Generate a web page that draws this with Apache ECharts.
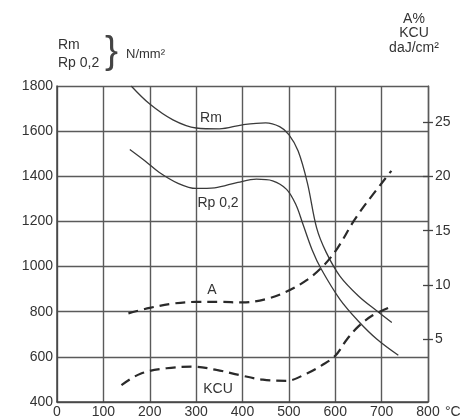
<!DOCTYPE html>
<html><head><meta charset="utf-8">
<script src="https://cdn.jsdelivr.net/npm/echarts@6/dist/echarts.min.js"></script>
<style>html,body{margin:0;padding:0;background:#fff}#c{width:473px;height:419px}</style>
</head><body><div id="c"></div>
<script>
// Axis ticks
const xTicks = [0, 100, 200, 300, 400, 500, 600, 700, 800];
const leftTicks = [400, 600, 800, 1000, 1200, 1400, 1600, 1800];
const rightTicks = [5, 10, 15, 20, 25];

// Rm (N/mm²) vs temperature (°C)
const rmTemp = [160, 200, 250, 300, 350, 400, 450, 480, 500, 520, 540, 560, 580, 610, 650, 690, 722];
const rmVal  = [1800, 1720, 1650, 1614, 1610, 1628, 1637, 1620, 1585, 1512, 1370, 1170, 1065, 958, 870, 803, 752];

// Rp 0,2 (N/mm²)
const rpTemp = [157, 190, 220, 260, 300, 340, 390, 430, 465, 495, 515, 530, 550, 570, 610, 650, 690, 736];
const rpVal  = [1519, 1468, 1418, 1370, 1346, 1349, 1373, 1387, 1380, 1342, 1275, 1190, 1075, 988, 855, 758, 678, 607];

// A (%)
const aTemp = [154, 200, 250, 300, 350, 400, 450, 495, 540, 575, 605, 640, 670, 721];
const aVal  = [7.4, 7.9, 8.3, 8.45, 8.45, 8.4, 8.7, 9.4, 10.5, 11.8, 13.4, 15.9, 17.7, 20.5];

// KCU (daJ/cm²)
const kcuTemp = [139, 180, 236, 294, 344, 394, 444, 495, 540, 570, 600, 625, 650, 680, 720];
const kcuVal  = [0.8, 1.85, 2.35, 2.5, 2.2, 1.72, 1.3, 1.2, 1.9, 2.6, 3.5, 5.0, 6.2, 7.2, 8.0];

const zip = (a, b) => a.map((v, i) => [v, b[i]]);
const FONT = 'Liberation Sans, Arial, sans-serif';
const TXT = '#333';
const GRID = '#5a5a5a';

const chart = echarts.init(document.getElementById('c'), null, {renderer: 'canvas'});
chart.setOption({
  backgroundColor: '#fff',
  animation: false,
  grid: {left: 57, right: 45, top: 86, bottom: 17, containLabel: false},
  xAxis: {
    type: 'value', min: xTicks[0], max: xTicks[xTicks.length - 1], interval: 100,
    axisLine: {show: true, onZero: false, lineStyle: {color: '#444', width: 1.5}},
    axisTick: {show: false},
    axisLabel: {margin: 3, color: TXT, fontSize: 14, fontFamily: FONT, formatter: v => String(v)},
    splitLine: {show: true, lineStyle: {color: GRID, width: 1.4}}
  },
  yAxis: [
    {
      type: 'value', min: leftTicks[0], max: leftTicks[leftTicks.length - 1], interval: 200,
      axisLine: {show: true, onZero: false, lineStyle: {color: '#444', width: 1.5}},
      axisTick: {show: false},
      axisLabel: {margin: 4, color: TXT, fontSize: 14, fontFamily: FONT, formatter: v => String(v)},
      splitLine: {show: true, lineStyle: {color: GRID, width: 1.4}}
    },
    {
      type: 'value', position: 'right', min: -0.75, max: 28.3,
      axisLine: {show: true, onZero: false, lineStyle: {color: GRID, width: 1.4}},
      axisTick: {show: true, length: 5, inside: false, customValues: rightTicks, lineStyle: {color: '#444', width: 1.3}},
      axisLabel: {show: true, margin: 7, customValues: rightTicks, color: TXT, fontSize: 14, fontFamily: FONT},
      splitLine: {show: false}
    },
    {
      type: 'value', position: 'right', min: -0.75, max: 28.3,
      axisLine: {show: false, onZero: false},
      axisTick: {show: true, length: 5, inside: true, customValues: rightTicks, lineStyle: {color: '#444', width: 1.3}},
      axisLabel: {show: false},
      splitLine: {show: false}
    }
  ],
  series: [
    {name: 'Rm', type: 'line', yAxisIndex: 0, data: zip(rmTemp, rmVal), smooth: 0.35, symbol: 'none',
     lineStyle: {color: '#3a3a3a', width: 1.3}},
    {name: 'Rp 0,2', type: 'line', yAxisIndex: 0, data: zip(rpTemp, rpVal), smooth: 0.35, symbol: 'none',
     lineStyle: {color: '#3a3a3a', width: 1.3}},
    {name: 'A', type: 'line', yAxisIndex: 1, data: zip(aTemp, aVal), smooth: 0.35, symbol: 'none',
     lineStyle: {color: '#2a2a2a', width: 2.2, type: [10, 6]}},
    {name: 'KCU', type: 'line', yAxisIndex: 1, data: zip(kcuTemp, kcuVal), smooth: 0.35, symbol: 'none',
     lineStyle: {color: '#2a2a2a', width: 2.2, type: [10, 6]}}
  ],
  graphic: [
    {type: 'text', left: 58, top: 38, style: {text: 'Rm', font: '14px ' + FONT, fill: TXT}},
    {type: 'text', left: 58, top: 56, style: {text: 'Rp 0,2', font: '14px ' + FONT, fill: TXT}},
    {type: 'text', left: 105, top: 33, style: {text: '}', font: '39px ' + FONT, fill: '#444'}},
    {type: 'text', left: 126, top: 48, style: {text: 'N/mm²', font: '13px ' + FONT, fill: TXT}},
    {type: 'text', x: 414, y: 19, style: {text: 'A%', font: '14px ' + FONT, fill: TXT, align: 'center', verticalAlign: 'middle'}},
    {type: 'text', x: 414, y: 33, style: {text: 'KCU', font: '14px ' + FONT, fill: TXT, align: 'center', verticalAlign: 'middle'}},
    {type: 'text', x: 414, y: 48, style: {text: 'daJ/cm²', font: '14px ' + FONT, fill: TXT, align: 'center', verticalAlign: 'middle'}},
    {type: 'text', x: 445, y: 412, style: {text: '°C', font: '14px ' + FONT, fill: TXT, verticalAlign: 'middle'}},
    {type: 'text', x: 211, y: 118, style: {text: 'Rm', font: '14px ' + FONT, fill: TXT, align: 'center', verticalAlign: 'middle'}},
    {type: 'text', x: 218, y: 203, style: {text: 'Rp 0,2', font: '14px ' + FONT, fill: TXT, align: 'center', verticalAlign: 'middle'}},
    {type: 'text', x: 212, y: 290, style: {text: 'A', font: '14px ' + FONT, fill: TXT, align: 'center', verticalAlign: 'middle'}},
    {type: 'text', x: 218, y: 389, style: {text: 'KCU', font: '14px ' + FONT, fill: TXT, align: 'center', verticalAlign: 'middle'}}
  ]
});
</script>
</body></html>
